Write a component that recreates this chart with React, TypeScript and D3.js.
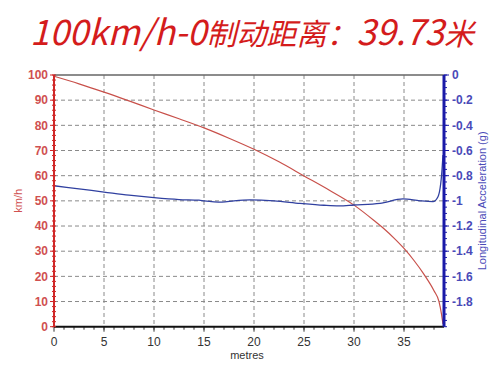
import React, { useEffect, useRef } from 'react';
import * as d3 from 'd3';

// speed (km/h) vs distance (metres)
const speedDist = [0, 2.5, 5, 7.5, 10, 12.5, 15, 17.5, 20, 22.5, 25, 27.5, 30, 32, 33, 34, 35, 36, 37, 38, 38.5, 38.75, 38.9];
const speedVals = [99.5, 96.5, 93.2, 89.7, 86.1, 82.6, 79, 74.9, 70.5, 65.5, 59.9, 54.3, 48.3, 42.2, 38.9, 35.2, 31.1, 26.3, 20.8, 14.3, 10, 5, 1];

// longitudinal acceleration (g) vs distance
const accDist = [0, 2.5, 5, 7.5, 10, 12.5, 14.5, 15, 16.8, 18, 19.6, 22, 24.6, 27, 28.5, 30, 32.6, 34.9, 36.6, 37.9, 38.4, 38.8, 38.9];
const accVals = [-0.88, -0.905, -0.93, -0.955, -0.975, -0.99, -0.995, -1.0, -1.01, -1.0, -0.993, -1.0, -1.02, -1.035, -1.04, -1.033, -1.02, -0.985, -1.0, -1.006, -0.967, -0.755, -0.636];

const xTicks = [0, 5, 10, 15, 20, 25, 30, 35];
const speedTicks = [0, 10, 20, 30, 40, 50, 60, 70, 80, 90, 100];
const accTicks = [0, -0.2, -0.4, -0.6, -0.8, -1, -1.2, -1.4, -1.6, -1.8];

const W = 500, H = 367;
const margin = { top: 75, right: 56, bottom: 40.3, left: 54 };

export default function App() {
    const ref = useRef<SVGGElement>(null);

    useEffect(() => {
        const g = d3.select(ref.current);
        g.selectAll('*').remove();
        const iw = W - margin.left - margin.right,
            ih = H - margin.top - margin.bottom;

        const x = d3.scaleLinear().domain([0, 39]).range([0, iw]);
        const yL = d3.scaleLinear().domain([0, 100]).range([ih, 0]);
        const yR = d3.scaleLinear().domain([-2, 0]).range([ih, 0]);

        // grid
        g.append('g').selectAll('line').data(speedTicks.filter(d => d > 0 && d < 100)).enter()
            .append('line')
            .attr('x1', 0).attr('x2', iw)
            .attr('y1', d => yL(d)).attr('y2', d => yL(d))
            .attr('stroke', '#8a8a8a').attr('stroke-dasharray', '4,3');
        g.append('g').selectAll('line').data(xTicks.filter(d => d > 0)).enter()
            .append('line')
            .attr('y1', 0).attr('y2', ih)
            .attr('x1', d => x(d)).attr('x2', d => x(d))
            .attr('stroke', '#8a8a8a').attr('stroke-dasharray', '4,3');

        // top border
        g.append('line').attr('x1', 0).attr('x2', iw).attr('y1', 0).attr('y2', 0)
            .attr('stroke', '#666').attr('stroke-width', 1.5);

        // lines
        const speedLine = d3.line<number>().x((d, i) => x(speedDist[i])).y(d => yL(d)).curve(d3.curveMonotoneX);
        g.append('path').datum(speedVals).attr('d', speedLine)
            .attr('fill', 'none').attr('stroke', '#c8504a').attr('stroke-width', 1.2);

        const accLine = d3.line<number>().x((d, i) => x(accDist[i])).y(d => yR(d)).curve(d3.curveMonotoneX);
        g.append('path').datum(accVals).attr('d', accLine)
            .attr('fill', 'none').attr('stroke', '#3040a0').attr('stroke-width', 1.3);

        // bottom axis
        const xAxis = g.append('g').attr('transform', `translate(0,${ih})`);
        xAxis.selectAll('line.minor').data(d3.range(1, 39)).enter().append('line')
            .attr('x1', d => x(d)).attr('x2', d => x(d)).attr('y1', 0).attr('y2', 3)
            .attr('stroke', '#333');
        xAxis.selectAll('line.major').data(xTicks).enter().append('line')
            .attr('x1', d => x(d)).attr('x2', d => x(d)).attr('y1', 0).attr('y2', 5)
            .attr('stroke', '#333');
        xAxis.append('line').attr('x1', 0).attr('x2', iw).attr('stroke', '#111').attr('stroke-width', 2);
        xAxis.selectAll('text').data(xTicks).enter().append('text')
            .attr('x', d => x(d)).attr('y', 19).attr('text-anchor', 'middle')
            .attr('font-family', 'Arial, "Liberation Sans", sans-serif').attr('font-size', 12)
            .attr('fill', '#333').text(d => d);
        g.append('text').attr('x', x(19.3)).attr('y', ih + 32).attr('text-anchor', 'middle')
            .attr('font-family', 'Arial, "Liberation Sans", sans-serif').attr('font-size', 11)
            .attr('fill', '#333').text('metres');

        // left axis
        const left = g.append('g');
        left.selectAll('line.minor').data(d3.range(0, 101, 2)).enter().append('line')
            .attr('x1', -2).attr('x2', 2).attr('y1', d => yL(d)).attr('y2', d => yL(d))
            .attr('stroke', '#d02828');
        left.selectAll('line.major').data(speedTicks).enter().append('line')
            .attr('x1', -4).attr('x2', 0).attr('y1', d => yL(d)).attr('y2', d => yL(d))
            .attr('stroke', '#d02828');
        left.append('line').attr('y1', 0).attr('y2', ih).attr('stroke', '#d02828').attr('stroke-width', 2);
        left.selectAll('text').data(speedTicks).enter().append('text')
            .attr('x', -6).attr('y', d => yL(d)).attr('dy', '0.35em').attr('text-anchor', 'end')
            .attr('font-family', 'Arial, "Liberation Sans", sans-serif').attr('font-size', 12)
            .attr('font-weight', 'bold').attr('fill', '#d05050').text(d => d);
        g.append('text').attr('transform', `translate(${18 - margin.left},${yL(50)}) rotate(-90)`)
            .attr('text-anchor', 'middle').attr('dy', '0.35em')
            .attr('font-family', 'Arial, "Liberation Sans", sans-serif').attr('font-size', 11)
            .attr('fill', '#d05050').text('km/h');

        // right axis
        const right = g.append('g').attr('transform', `translate(${iw},0)`);
        right.selectAll('line.minor').data(d3.range(0, 41).map(i => -i * 0.05)).enter().append('line')
            .attr('x1', 0).attr('x2', 3).attr('y1', d => yR(d)).attr('y2', d => yR(d))
            .attr('stroke', '#1a1aa8');
        right.selectAll('line.major').data(accTicks).enter().append('line')
            .attr('x1', 0).attr('x2', 5).attr('y1', d => yR(d)).attr('y2', d => yR(d))
            .attr('stroke', '#1a1aa8');
        right.append('line').attr('y1', 0).attr('y2', ih).attr('stroke', '#1a1aa8').attr('stroke-width', 3);
        right.selectAll('text').data(accTicks).enter().append('text')
            .attr('x', 8).attr('y', d => yR(d)).attr('dy', '0.35em').attr('text-anchor', 'start')
            .attr('font-family', 'Arial, "Liberation Sans", sans-serif').attr('font-size', 12)
            .attr('font-weight', 'bold').attr('fill', '#4a4ab8').text(d => d);
        g.append('text').attr('transform', `translate(${iw + 38},${yR(-1)}) rotate(-90)`)
            .attr('text-anchor', 'middle').attr('dy', '0.35em')
            .attr('font-family', 'Arial, "Liberation Sans", sans-serif').attr('font-size', 11)
            .attr('fill', '#4a4ab8').text('Longitudinal Acceleration (g)');
    }, []);

    return (
        <svg width={W} height={H} style={{ position: 'absolute', left: 0, top: 0, background: '#fff' }}>
            <text x={252} y={45} textAnchor="middle" fill="#d41c1c" fontStyle="italic"
                fontFamily='"Noto Sans CJK SC", sans-serif' fontSize={30}>
                <tspan fontSize={35}>100km/h-0</tspan>制动距离：<tspan fontSize={35}>39.73</tspan>米
            </text>
            <g ref={ref} transform={`translate(${margin.left},${margin.top})`}></g>
        </svg>
    );
}
